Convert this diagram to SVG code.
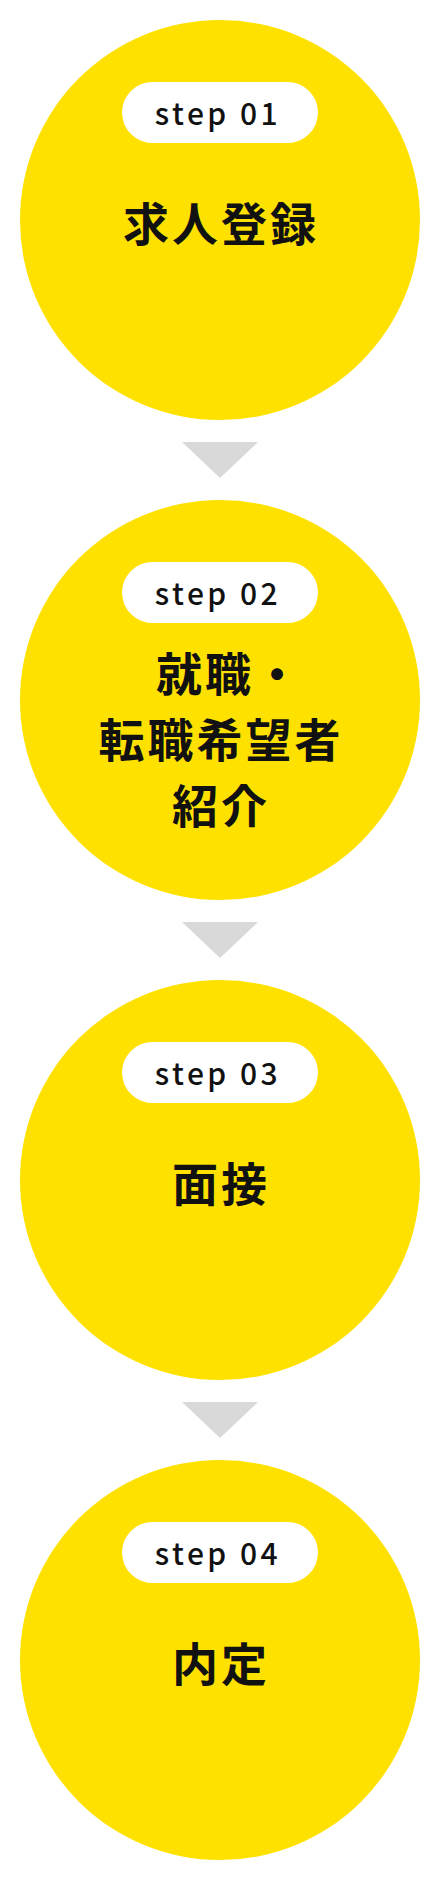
<svg xmlns="http://www.w3.org/2000/svg" width="440" height="1880" viewBox="0 0 440 1880">
<style>
.circle{fill:#FFE100}
.pill{fill:#FFFFFF}
.step{font-family:"Noto Sans CJK JP","Noto Sans",sans-serif;font-size:30px;font-weight:500;fill:#111;letter-spacing:3.5px;text-anchor:middle}
.title{font-family:"Noto Sans CJK JP",sans-serif;font-size:46px;font-weight:700;fill:#111;letter-spacing:3px;text-anchor:middle}
.arrow{fill:#D9D9D9}
</style>
<rect width="440" height="1880" fill="#FFFFFF"/>
<g id="connectors">
<polygon class="arrow" points="182,442 258,442 220,478"/>
<polygon class="arrow" points="182,922 258,922 220,958"/>
<polygon class="arrow" points="182,1402 258,1402 220,1438"/>
</g>
<g id="step01">
<circle class="circle" cx="220" cy="220" r="200"/>
<rect class="pill" x="122" y="82" width="196" height="61" rx="30.5"/>
<text class="step" x="218" y="125">step 01</text>
<text class="title" x="221" y="241">求人登録</text>
</g>
<g id="step02">
<circle class="circle" cx="220" cy="700" r="200"/>
<rect class="pill" x="122" y="562" width="196" height="61" rx="30.5"/>
<text class="step" x="218" y="605">step 02</text>
<text class="title" x="156" y="691" style="text-anchor:start;letter-spacing:0px">就<tspan dx="3">職</tspan></text>
<text class="title" x="254" y="691" style="text-anchor:start;letter-spacing:0px">・</text>
<text class="title" x="221" y="757">転職希望者</text>
<text class="title" x="221" y="823">紹介</text>
</g>
<g id="step03">
<circle class="circle" cx="220" cy="1180" r="200"/>
<rect class="pill" x="122" y="1042" width="196" height="61" rx="30.5"/>
<text class="step" x="218" y="1085">step 03</text>
<text class="title" x="221" y="1201">面接</text>
</g>
<g id="step04">
<circle class="circle" cx="220" cy="1660" r="200"/>
<rect class="pill" x="122" y="1522" width="196" height="61" rx="30.5"/>
<text class="step" x="218" y="1565">step 04</text>
<text class="title" x="221" y="1681">内定</text>
</g>
</svg>
